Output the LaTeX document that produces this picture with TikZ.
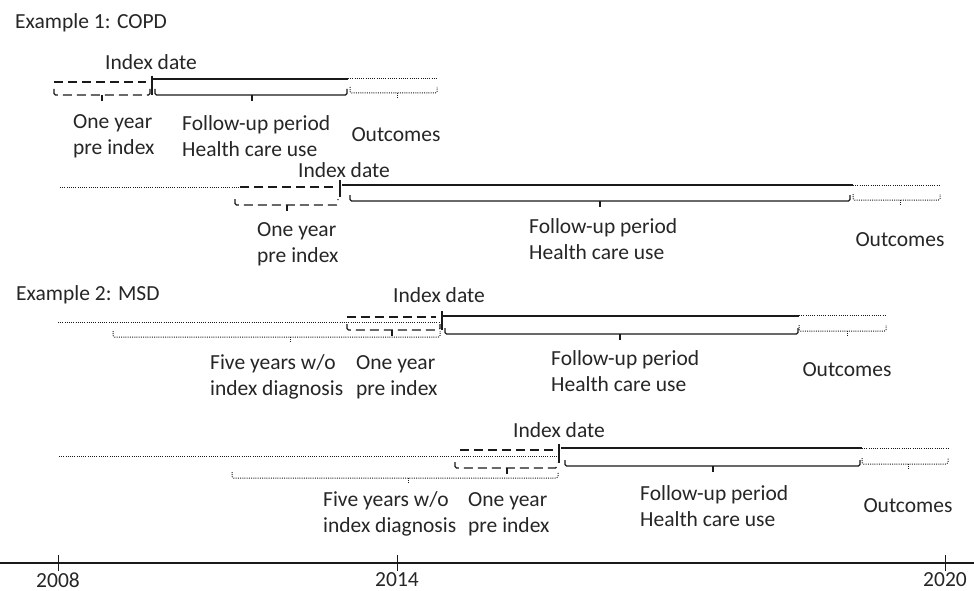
\documentclass[tikz,border=0pt]{standalone}
\usepackage{fontspec}
\setmainfont{Carlito}
\definecolor{txt}{HTML}{262626}
\definecolor{ln}{HTML}{1A1A1A}
\newcommand\tbrk[5]{%
  \draw[#1,rounded corners=1.5pt] (#2,#4-6) -- (#2,#4) -- (#3,#4) -- (#3,#4-6);
  \draw[#1] (#5,#4) -- (#5,#4+6);
}
\begin{document}
\begin{tikzpicture}[x=1pt,y=-1pt,
  lbl/.style={font=\fontsize{21.5}{26}\selectfont, text=txt, inner sep=0pt, align=left},
  solidln/.style={line width=1.2pt, draw=ln},
  dashln/.style={line width=1.2pt, draw=ln, dash pattern=on 9pt off 5pt},
  dotln/.style={line width=1pt, draw=ln, dash pattern=on 1pt off 1.2pt},
  idx/.style={line width=1.7pt, draw=ln},
]
\useasboundingbox[fill=white] (0,0) rectangle (974,591);

% ---------------- Titles
\node[lbl, anchor=west] (t1) at (15,23) {Example 1: COPD};
\node[lbl, anchor=west] (t2) at (16,295) {Example 2: MSD};

% ---------------- Row 1
\node[lbl] (i1) at (151,62) {Index date};
\draw[dashln] (54,82) -- (146,82);
\draw[idx] (152,76) -- (152,95);
\draw[solidln] (152,79) -- (348,79);
\draw[dotln] (348,79) -- (437,79);
\tbrk{dashln}{54}{150}{95}{102}
\tbrk{solidln}{155}{347}{95}{252}
\tbrk{dotln}{350}{437}{93}{397}
\node[lbl, anchor=west] (a1) at (73,136) {One year\\pre index};
\node[lbl, anchor=west] (b1) at (182,136) {Follow-up period\\Health care use};
\node[lbl] (c1) at (396,135) {Outcomes};

% ---------------- Row 2
\node[lbl] (i2) at (344,170) {Index date};
\draw[dotln] (60,187) -- (240,187);
\draw[dashln] (240,187) -- (336,187);
\draw[idx] (340,180) -- (340,197);
\draw[solidln] (342,185) -- (853,185);
\draw[dotln] (853,185) -- (940,185);
\tbrk{dashln}{235}{338}{205}{287}
\tbrk{solidln}{350}{850}{201}{600}
\tbrk{dotln}{853}{940}{200}{900}
\node[lbl, anchor=west] (a2) at (257,244) {One year\\pre index};
\node[lbl, anchor=west] (b2) at (529,239) {Follow-up period\\Health care use};
\node[lbl] (c2) at (900,240) {Outcomes};

% ---------------- Row 3
\node[lbl] (i3) at (439,295) {Index date};
\draw[dotln] (58,322) -- (440,322);
\draw[dashln] (347,317) -- (436,317);
\draw[idx] (442,311) -- (442,330);
\draw[solidln] (443,316) -- (799,316);
\draw[dotln] (799,315) -- (886,315);
\tbrk{dotln}{113}{440}{337}{290}
\tbrk{dashln}{347}{440}{330}{392}
\tbrk{solidln}{445}{798}{334}{620}
\tbrk{dotln}{799}{886}{331}{847}
\node[lbl, anchor=west] (d3) at (210,377) {Five years w/o\\index diagnosis};
\node[lbl, anchor=west] (a3) at (356,377) {One year\\pre index};
\node[lbl, anchor=west] (b3) at (551,371) {Follow-up period\\Health care use};
\node[lbl] (c3) at (847,370) {Outcomes};

% ---------------- Row 4
\node[lbl] (i4) at (559,430) {Index date};
\draw[dotln] (59,456) -- (557,456);
\draw[dashln] (460,450) -- (554,450);
\draw[idx] (559,444) -- (559,463);
\draw[solidln] (561,448) -- (862,448);
\draw[dotln] (862,448) -- (948,448);
\tbrk{dashln}{455}{557}{468}{507}
\tbrk{dotln}{232}{558}{478}{408}
\tbrk{solidln}{565}{860}{466}{713}
\tbrk{dotln}{862}{948}{464}{908}
\node[lbl, anchor=west] (d4) at (323,514) {Five years w/o\\index diagnosis};
\node[lbl, anchor=west] (a4) at (468,514) {One year\\pre index};
\node[lbl, anchor=west] (b4) at (640,506) {Follow-up period\\Health care use};
\node[lbl] (c4) at (908,506) {Outcomes};

% ---------------- Axis
\coordinate (ax0) at (0,563);
\coordinate (ax1) at (974,563);
\draw[line width=1.6pt, draw=ln] (ax0) -- (ax1);
\foreach \xx/\yr/\nm in {58/2008/y1, 397/2014/y2, 945/2020/y3}{
  \draw[line width=0.6pt, draw=ln] (\xx,555) -- (\xx,571);
  \node[lbl] (\nm) at (\xx,580) {\yr};
}
\end{tikzpicture}
\end{document}
